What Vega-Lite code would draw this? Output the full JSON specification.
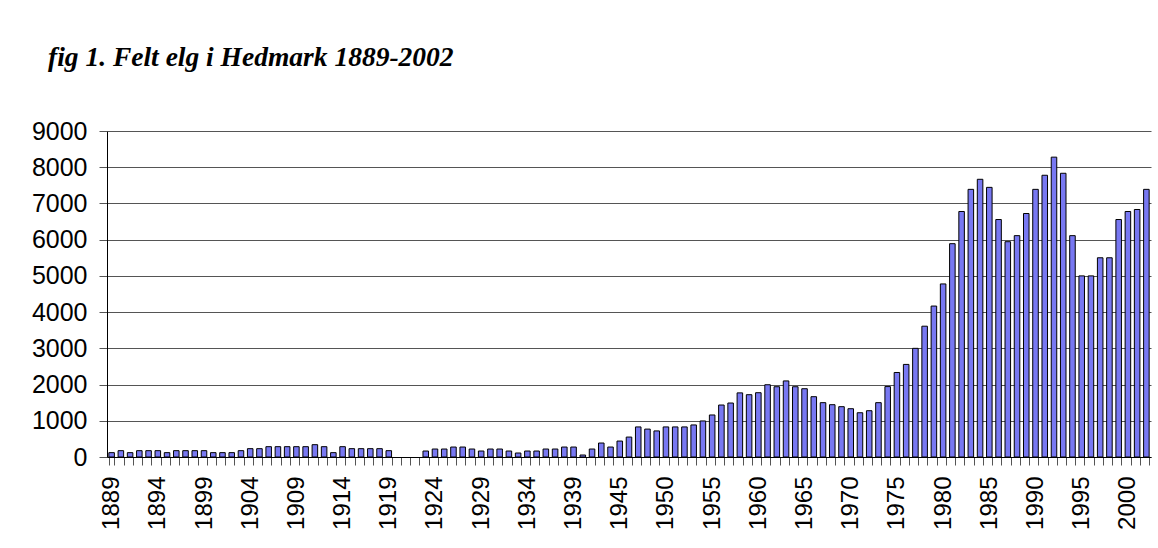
{
  "$schema": "https://vega.github.io/schema/vega-lite/v6.json",
  "autosize": {"type": "none"},
  "padding": {"left": 107, "top": 131, "right": 7, "bottom": 91},
  "width": 1044,
  "height": 326,
  "background": "white",
  "title": {
    "text": "fig 1. Felt elg i Hedmark 1889-2002",
    "font": "Liberation Serif",
    "fontSize": 27.5,
    "fontStyle": "italic",
    "fontWeight": "bold",
    "color": "black",
    "anchor": "start",
    "frame": "group",
    "dx": -59,
    "baseline": "alphabetic",
    "offset": 26
  },
  "data": {
    "values": [
      {"year": 1889, "felt": 120}, {"year": 1890, "felt": 175}, {"year": 1891, "felt": 120},
      {"year": 1892, "felt": 175}, {"year": 1893, "felt": 175}, {"year": 1894, "felt": 175},
      {"year": 1895, "felt": 120}, {"year": 1896, "felt": 175}, {"year": 1897, "felt": 175},
      {"year": 1898, "felt": 175}, {"year": 1899, "felt": 175}, {"year": 1900, "felt": 120},
      {"year": 1901, "felt": 120}, {"year": 1902, "felt": 120}, {"year": 1903, "felt": 175},
      {"year": 1904, "felt": 230}, {"year": 1905, "felt": 230}, {"year": 1906, "felt": 285},
      {"year": 1907, "felt": 285}, {"year": 1908, "felt": 285}, {"year": 1909, "felt": 285},
      {"year": 1910, "felt": 285}, {"year": 1911, "felt": 340}, {"year": 1912, "felt": 285},
      {"year": 1913, "felt": 120}, {"year": 1914, "felt": 285}, {"year": 1915, "felt": 230},
      {"year": 1916, "felt": 230}, {"year": 1917, "felt": 230}, {"year": 1918, "felt": 230},
      {"year": 1919, "felt": 175}, {"year": 1920, "felt": null}, {"year": 1921, "felt": null},
      {"year": 1922, "felt": null}, {"year": 1923, "felt": 165}, {"year": 1924, "felt": 220},
      {"year": 1925, "felt": 220}, {"year": 1926, "felt": 275}, {"year": 1927, "felt": 275},
      {"year": 1928, "felt": 220}, {"year": 1929, "felt": 165}, {"year": 1930, "felt": 220},
      {"year": 1931, "felt": 220}, {"year": 1932, "felt": 165}, {"year": 1933, "felt": 110},
      {"year": 1934, "felt": 165}, {"year": 1935, "felt": 165}, {"year": 1936, "felt": 220},
      {"year": 1937, "felt": 220}, {"year": 1938, "felt": 275}, {"year": 1939, "felt": 275},
      {"year": 1940, "felt": 55}, {"year": 1941, "felt": 220}, {"year": 1942, "felt": 386},
      {"year": 1943, "felt": 275}, {"year": 1945, "felt": 440}, {"year": 1946, "felt": 550},
      {"year": 1947, "felt": 830}, {"year": 1948, "felt": 770}, {"year": 1949, "felt": 720},
      {"year": 1950, "felt": 830}, {"year": 1951, "felt": 830}, {"year": 1952, "felt": 830},
      {"year": 1953, "felt": 885}, {"year": 1954, "felt": 995}, {"year": 1955, "felt": 1160},
      {"year": 1956, "felt": 1435}, {"year": 1957, "felt": 1490}, {"year": 1958, "felt": 1770},
      {"year": 1959, "felt": 1720}, {"year": 1960, "felt": 1775}, {"year": 1961, "felt": 1995},
      {"year": 1962, "felt": 1940}, {"year": 1963, "felt": 2100}, {"year": 1964, "felt": 1940},
      {"year": 1965, "felt": 1885}, {"year": 1966, "felt": 1665}, {"year": 1967, "felt": 1500},
      {"year": 1968, "felt": 1444}, {"year": 1969, "felt": 1389}, {"year": 1970, "felt": 1333},
      {"year": 1971, "felt": 1222}, {"year": 1972, "felt": 1278}, {"year": 1973, "felt": 1500},
      {"year": 1974, "felt": 1944}, {"year": 1975, "felt": 2333}, {"year": 1976, "felt": 2556},
      {"year": 1977, "felt": 3000}, {"year": 1978, "felt": 3611}, {"year": 1979, "felt": 4167},
      {"year": 1980, "felt": 4778}, {"year": 1981, "felt": 5889}, {"year": 1982, "felt": 6778},
      {"year": 1983, "felt": 7389}, {"year": 1984, "felt": 7667}, {"year": 1985, "felt": 7444},
      {"year": 1986, "felt": 6556}, {"year": 1987, "felt": 5944}, {"year": 1988, "felt": 6111},
      {"year": 1989, "felt": 6722}, {"year": 1990, "felt": 7389}, {"year": 1991, "felt": 7778},
      {"year": 1992, "felt": 8278}, {"year": 1993, "felt": 7833}, {"year": 1994, "felt": 6111},
      {"year": 1995, "felt": 5000}, {"year": 1996, "felt": 5000}, {"year": 1997, "felt": 5500},
      {"year": 1998, "felt": 5500}, {"year": 1999, "felt": 6556}, {"year": 2000, "felt": 6778},
      {"year": 2001, "felt": 6833}, {"year": 2002, "felt": 7389}
    ]
  },
  "encoding": {
    "x": {
      "field": "year",
      "type": "ordinal",
      "title": null,
      "scale": {"paddingInner": 0.4, "paddingOuter": 0.2},
      "axis": {
        "labelAngle": -90,
        "labelAlign": "right",
        "labelBaseline": "middle",
        "labelFont": "Liberation Sans",
        "labelFontSize": 24,
        "labelColor": "black",
        "labelPadding": 11,
        "labelOverlap": false,
        "labelExpr": "indexof(['1889','1894','1899','1904','1909','1914','1919','1924','1929','1934','1939','1945','1950','1955','1960','1965','1970','1975','1980','1985','1990','1995','2000'], datum.label) >= 0 ? datum.label : ''",
        "tickBand": "extent",
        "tickSize": 8,
        "tickColor": "#555555",
        "domainColor": "black",
        "grid": false
      }
    }
  },
  "layer": [
    {
      "mark": {"type": "point", "opacity": 0}
    },
    {
      "mark": {
        "type": "bar",
        "fill": "#7878F2",
        "stroke": "black",
        "strokeWidth": 1
      },
      "encoding": {
        "y": {
          "field": "felt",
          "type": "quantitative",
          "title": null,
          "scale": {"domain": [0, 9000], "nice": false},
          "axis": {
            "values": [0, 1000, 2000, 3000, 4000, 5000, 6000, 7000, 8000, 9000],
            "format": "d",
            "labelFont": "Liberation Sans",
            "labelFontSize": 25,
            "labelColor": "black",
            "labelPadding": 12,
            "tickSize": 8,
            "tickColor": "#555555",
            "domainColor": "black",
            "grid": true,
            "gridColor": "#555555",
            "gridWidth": 1
          }
        }
      }
    }
  ],
  "config": {
    "view": {"stroke": null}
  }
}
